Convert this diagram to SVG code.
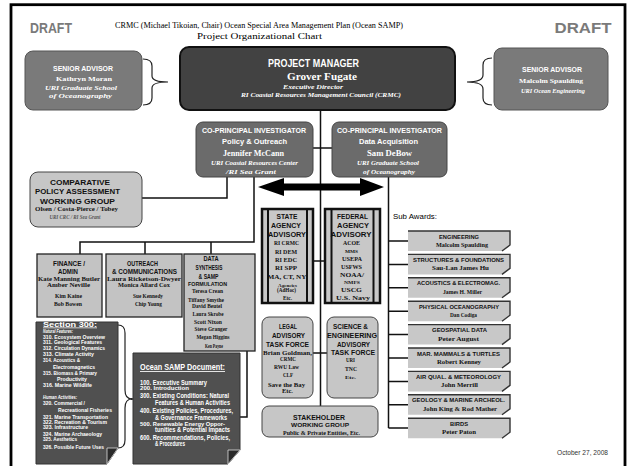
<svg xmlns="http://www.w3.org/2000/svg" width="630" height="466" viewBox="0 0 630 466">
<defs>
<style>
text{text-anchor:middle}
.s{font-family:"Liberation Sans",Arial,sans-serif}
.r{font-family:"Liberation Serif","Times New Roman",serif}
.b{font-weight:bold}
.i{font-style:italic}
.w{fill:#fff}
.k{fill:#111}
.l{text-anchor:start}
.ln{fill:none;stroke:#111;stroke-width:1.5}
.br{fill:none;stroke:#222;stroke-width:1.2}
.sa{fill:#7a7a7a;stroke:#555;stroke-width:1}
.cp{fill:#6b6b6b;stroke:#444;stroke-width:1}
.lg{fill:#c6c6c6;stroke:#444;stroke-width:1}
.sq{fill:#c3c3c3;stroke:#222;stroke-width:1.3}
.ag{fill:#c8c8c8;stroke:#111;stroke-width:2.5}
.dk{fill:#505050;stroke:#333;stroke-width:1}
.sub{fill:#c8c8c8}
.subedge{fill:none;stroke:#333;stroke-width:1.4}
</style>
</defs>
<rect x="0" y="0" width="630" height="466" fill="#fff"/>
<rect x="11" y="4.7" width="614" height="500" fill="none" stroke="#000" stroke-width="2.8"/>

<g id="header">
<text class="s b" x="51" y="33" font-size="15" fill="#7a7a7a" textLength="42" lengthAdjust="spacingAndGlyphs">DRAFT</text>
<text class="s b" x="583" y="33" font-size="15" fill="#7a7a7a" textLength="57" lengthAdjust="spacingAndGlyphs">DRAFT</text>
<text class="r" x="259" y="28" font-size="8.6" textLength="288" lengthAdjust="spacingAndGlyphs">CRMC (Michael Tikoian, Chair) Ocean Special Area Management Plan (Ocean SAMP)</text>
<text class="r" x="259.5" y="39" font-size="8.6" textLength="125" lengthAdjust="spacingAndGlyphs">Project Organizational Chart</text>
</g>

<g id="connectors">
<path class="br" d="M143,59 Q152,59 152,66 L152,76 Q152,82 168,82 Q152,82 152,88 L152,98 Q152,105 143,105"/>
<path class="br" d="M492,58 Q483,58 483,65 L483,75 Q483,82 467,82 Q483,82 483,89 L483,98 Q483,105 492,105"/>
<path class="ln" d="M320.5,110 V406"/>
<path class="ln" d="M313,148 H332"/>
<path class="ln" d="M227,177 V198 H142"/>
<path class="ln" d="M254,177 V242 H80 V254 M145,242 V254 M211,242 V254"/>
<path class="ln" d="M388.5,177 V428 M388.5,241 H408 M388.5,264.4 H408 M388.5,287.8 H408 M388.5,311.2 H408 M388.5,334.6 H408 M388.5,358 H408 M388.5,381.4 H408 M388.5,404.8 H408 M388.5,428 H408"/>
<path class="ln" d="M313,261 H325"/>
<path class="ln" d="M313,353 H327"/>
<path class="ln" d="M247,351 V417 H240"/>
<path class="br" d="M118,325 Q125,325 125,333 L125,390 Q125,399 132,399 Q125,399 125,408 L125,440 Q125,448 118,448"/>
<path class="ln" d="M131,399 H134"/>
<polygon points="258,187 284,178 284,183.5 360,183.5 360,178 384,187 360,196 360,190.5 284,190.5 284,196" fill="#000"/>
</g>

<g id="pm">
<rect x="180" y="47" width="275" height="63" rx="9" fill="#424242" stroke="#111" stroke-width="2"/>
<text class="s b w" x="313.5" y="67" font-size="10.5" textLength="91" lengthAdjust="spacingAndGlyphs">PROJECT MANAGER</text>
<text class="r b w" x="322" y="80" font-size="9.5" textLength="70" lengthAdjust="spacingAndGlyphs">Grover Fugate</text>
<text class="r b i w" x="313" y="88.5" font-size="7" textLength="60" lengthAdjust="spacingAndGlyphs">Executive Director</text>
<text class="r b i w" x="321" y="96.5" font-size="7" textLength="160" lengthAdjust="spacingAndGlyphs">RI Coastal Resources Management Council (CRMC)</text>
</g>

<g id="senior-left">
<rect class="sa" x="25" y="51" width="117" height="59" rx="8"/>
<text class="s b w" x="83" y="70.5" font-size="7.5" textLength="60" lengthAdjust="spacingAndGlyphs">SENIOR ADVISOR</text>
<text class="r b w" x="84" y="80.5" font-size="7" textLength="56" lengthAdjust="spacingAndGlyphs">Kathryn Moran</text>
<text class="r b i w" x="81" y="89.5" font-size="6.5" textLength="72" lengthAdjust="spacingAndGlyphs">URI Graduate School</text>
<text class="r b i w" x="80.5" y="97.5" font-size="6.5" textLength="63" lengthAdjust="spacingAndGlyphs">of Oceanography</text>
</g>

<g id="senior-right">
<rect class="sa" x="494" y="48" width="114" height="62" rx="8"/>
<text class="s b w" x="552" y="72" font-size="7.5" textLength="60" lengthAdjust="spacingAndGlyphs">SENIOR ADVISOR</text>
<text class="r b w" x="551" y="82.5" font-size="7" textLength="64" lengthAdjust="spacingAndGlyphs">Malcolm Spaulding</text>
<text class="r b i w" x="553" y="93" font-size="6.5" textLength="64" lengthAdjust="spacingAndGlyphs">URI Ocean Engineering</text>
</g>

<g id="copi-left">
<rect class="cp" x="196" y="122" width="117" height="55" rx="7"/>
<text class="s b w" x="254" y="133" font-size="7.2" textLength="104" lengthAdjust="spacingAndGlyphs">CO-PRINCIPAL INVESTIGATOR</text>
<text class="s b w" x="254.5" y="143.5" font-size="7.5" textLength="65" lengthAdjust="spacingAndGlyphs">Policy &amp; Outreach</text>
<text class="r b w" x="253.5" y="155.5" font-size="8" textLength="61" lengthAdjust="spacingAndGlyphs">Jennifer McCann</text>
<text class="r b i w" x="254.5" y="165" font-size="6.5" textLength="87" lengthAdjust="spacingAndGlyphs">URI Coastal Resources Center</text>
<text class="r b i w" x="251" y="173.5" font-size="6.5" textLength="50" lengthAdjust="spacingAndGlyphs">/RI Sea Grant</text>
</g>

<g id="copi-right">
<rect class="cp" x="332" y="122" width="115" height="55" rx="7"/>
<text class="s b w" x="389.5" y="133" font-size="7.2" textLength="105" lengthAdjust="spacingAndGlyphs">CO-PRINCIPAL INVESTIGATOR</text>
<text class="s b w" x="388.5" y="143.5" font-size="7.5" textLength="59" lengthAdjust="spacingAndGlyphs">Data Acquisition</text>
<text class="r b w" x="389.5" y="155.5" font-size="8" textLength="45" lengthAdjust="spacingAndGlyphs">Sam DeBow</text>
<text class="r b i w" x="388" y="165" font-size="6.5" textLength="62" lengthAdjust="spacingAndGlyphs">URI Graduate School</text>
<text class="r b i w" x="389" y="173.5" font-size="6.5" textLength="52" lengthAdjust="spacingAndGlyphs">of Oceanography</text>
</g>

<g id="comparative">
<rect class="lg" x="30" y="172" width="112" height="55" rx="8"/>
<text class="s b k" x="80" y="185" font-size="6.5" textLength="60" lengthAdjust="spacingAndGlyphs">COMPARATIVE</text>
<text class="s b k" x="77.5" y="194" font-size="6.5" textLength="85" lengthAdjust="spacingAndGlyphs">POLICY ASSESSMENT</text>
<text class="s b k" x="77.5" y="203.5" font-size="8" textLength="75" lengthAdjust="spacingAndGlyphs">WORKING GROUP</text>
<text class="r b k" x="76.5" y="210.5" font-size="6" textLength="83" lengthAdjust="spacingAndGlyphs">Olsen / Costa-Pierce / Tobey</text>
<text class="r b i" x="75" y="219" font-size="5.5" fill="#555" textLength="51" lengthAdjust="spacingAndGlyphs">URI CRC / RI Sea Grant</text>
</g>

<g id="finance">
<rect class="sq" x="37" y="254" width="65" height="63"/>
<text class="s b k" x="69" y="266" font-size="6.5" textLength="32" lengthAdjust="spacingAndGlyphs">FINANCE /</text>
<text class="s b k" x="68" y="274" font-size="6.5" textLength="20" lengthAdjust="spacingAndGlyphs">ADMIN</text>
<text class="r b k" x="69" y="281" font-size="6.3" textLength="62" lengthAdjust="spacingAndGlyphs">Kate Manning Butler</text>
<text class="r b k" x="68.5" y="287" font-size="6.3" textLength="43" lengthAdjust="spacingAndGlyphs">Amber Neville</text>
<text class="r b k" x="68.5" y="298" font-size="6.5" textLength="27" lengthAdjust="spacingAndGlyphs">Kim Kaine</text>
<text class="r b k" x="68" y="306" font-size="6.5" textLength="28" lengthAdjust="spacingAndGlyphs">Bob Bowen</text>
</g>

<g id="outreach">
<rect class="sq" x="106" y="254" width="76" height="63"/>
<text class="s b k" x="142.5" y="266" font-size="6.5" textLength="31" lengthAdjust="spacingAndGlyphs">OUTREACH</text>
<text class="s b k" x="144.5" y="274" font-size="6.5" textLength="65" lengthAdjust="spacingAndGlyphs">&amp; COMMUNICATIONS</text>
<text class="r b k" x="144" y="281" font-size="6.3" textLength="74" lengthAdjust="spacingAndGlyphs">Laura Ricketson-Dwyer</text>
<text class="r b k" x="144" y="287" font-size="6.3" textLength="52" lengthAdjust="spacingAndGlyphs">Monica Allard Cox</text>
<text class="r b k" x="148" y="298" font-size="6.5" textLength="30" lengthAdjust="spacingAndGlyphs">Sue Kennedy</text>
<text class="r b k" x="148.5" y="306" font-size="6.5" textLength="27" lengthAdjust="spacingAndGlyphs">Chip Young</text>
</g>

<g id="data-synthesis">
<rect class="sq" x="184" y="254" width="71" height="97"/>
<text class="s b k" x="211" y="261" font-size="6.5" textLength="15" lengthAdjust="spacingAndGlyphs">DATA</text>
<text class="s b k" x="209" y="270" font-size="6.5" textLength="27" lengthAdjust="spacingAndGlyphs">SYNTHESIS</text>
<text class="s b k" x="208.5" y="279" font-size="6.5" textLength="20" lengthAdjust="spacingAndGlyphs">&amp; SAMP</text>
<text class="s b k" x="207.5" y="286" font-size="5.5" textLength="39" lengthAdjust="spacingAndGlyphs">FORMULATION</text>
<text class="r b k" x="207.5" y="293" font-size="6.5" textLength="31" lengthAdjust="spacingAndGlyphs">Teresa Crean</text>
<text class="r b k" x="206" y="302" font-size="6.5" textLength="36" lengthAdjust="spacingAndGlyphs">Tiffany Smythe</text>
<text class="r b k" x="207" y="308" font-size="6.5" textLength="30" lengthAdjust="spacingAndGlyphs">David Beutel</text>
<text class="r b k" x="208" y="316" font-size="6.5" textLength="31" lengthAdjust="spacingAndGlyphs">Laura Skrobe</text>
<text class="r b k" x="208" y="323.5" font-size="6.5" textLength="28" lengthAdjust="spacingAndGlyphs">Scott Nixon</text>
<text class="r b k" x="211" y="331" font-size="6.5" textLength="33" lengthAdjust="spacingAndGlyphs">Steve Granger</text>
<text class="r b k" x="213" y="339" font-size="6.5" textLength="33" lengthAdjust="spacingAndGlyphs">Megan Higgins</text>
<text class="r b k" x="214" y="347.5" font-size="6.5" textLength="18" lengthAdjust="spacingAndGlyphs">Ken Payne</text>
</g>

<g id="section-300">
<polygon class="dk" points="36,322 118,322 118,448 107,464 36,464"/>
<polygon points="107,448 118,448 107,464" fill="#2a2a2a" stroke="#ddd" stroke-width="0.8"/>
<g class="s b w" font-size="6">
<text class="l" x="43" y="326.5" font-size="7.5" textLength="54" lengthAdjust="spacingAndGlyphs" text-decoration="underline">Section 300:</text>
<text class="l i" x="43" y="333" font-size="5" textLength="30" lengthAdjust="spacingAndGlyphs">Natural Features:</text>
<text class="l" x="43" y="338.5" textLength="62" lengthAdjust="spacingAndGlyphs">310. Ecosystem Overview</text>
<text class="l" x="43" y="344" textLength="59" lengthAdjust="spacingAndGlyphs">311. Geological Features</text>
<text class="l" x="43" y="350" textLength="62" lengthAdjust="spacingAndGlyphs">312. Circulation Dynamics</text>
<text class="l" x="43" y="355.5" font-size="4.8" textLength="51" lengthAdjust="spacingAndGlyphs">313. Climate Activity</text>
<text class="l" x="43" y="362" textLength="37" lengthAdjust="spacingAndGlyphs">314. Acoustics &amp;</text>
<text class="l" x="53" y="369" textLength="42" lengthAdjust="spacingAndGlyphs">Electromagnetics</text>
<text class="l" x="43" y="375" textLength="54" lengthAdjust="spacingAndGlyphs">315. Biomass &amp; Primary</text>
<text class="l" x="57" y="381" textLength="30" lengthAdjust="spacingAndGlyphs">Productivity</text>
<text class="l" x="43" y="387" textLength="49" lengthAdjust="spacingAndGlyphs">316. Marine Wildlife</text>
<text class="l i" x="43" y="399" font-size="5.5" textLength="34" lengthAdjust="spacingAndGlyphs">Human Activities:</text>
<text class="l" x="43" y="405" textLength="42" lengthAdjust="spacingAndGlyphs">320. Commercial /</text>
<text class="l" x="58" y="412" textLength="54" lengthAdjust="spacingAndGlyphs">Recreational Fisheries</text>
<text class="l" x="43" y="419" textLength="65" lengthAdjust="spacingAndGlyphs">321. Marine Transportation</text>
<text class="l" x="43" y="423.5" font-size="4.8" textLength="64" lengthAdjust="spacingAndGlyphs">322. Recreation &amp; Tourism</text>
<text class="l" x="43" y="429" textLength="45" lengthAdjust="spacingAndGlyphs">323. Infrastructure</text>
<text class="l" x="43" y="436" textLength="59" lengthAdjust="spacingAndGlyphs">324. Marine Archaeology</text>
<text class="l" x="43" y="441" textLength="34" lengthAdjust="spacingAndGlyphs">325. Aesthetics</text>
<text class="l" x="43" y="449" textLength="61" lengthAdjust="spacingAndGlyphs">326. Possible Future Uses</text>
</g>
</g>

<g id="ocean-samp-document">
<polygon class="dk" points="133,353 240,353 240,450 228,464 133,464" fill="#4a4a4a"/>
<polygon points="228,450 240,450 228,464" fill="#2a2a2a" stroke="#ddd" stroke-width="0.8"/>
<g class="s b w" font-size="6.3">
<text class="l" x="140" y="370" font-size="8.5" textLength="85" lengthAdjust="spacingAndGlyphs" text-decoration="underline">Ocean SAMP Document:</text>
<text class="l" x="140" y="385" textLength="67" lengthAdjust="spacingAndGlyphs">100. Executive Summary</text>
<text class="l" x="140" y="390" font-size="4.8" textLength="49" lengthAdjust="spacingAndGlyphs">200. Introduction</text>
<text class="l" x="140" y="398" textLength="89" lengthAdjust="spacingAndGlyphs">300. Existing Conditions: Natural</text>
<text class="l" x="155" y="405" textLength="75" lengthAdjust="spacingAndGlyphs">Features &amp; Human Activities</text>
<text class="l" x="140" y="413" textLength="93" lengthAdjust="spacingAndGlyphs">400. Existing Policies, Procedures,</text>
<text class="l" x="155" y="419.5" textLength="72" lengthAdjust="spacingAndGlyphs">&amp; Governance Frameworks</text>
<text class="l" x="140" y="426" font-size="4.8" textLength="85" lengthAdjust="spacingAndGlyphs">500. Renewable Energy Oppor-</text>
<text class="l" x="155" y="432" textLength="75" lengthAdjust="spacingAndGlyphs">tunities &amp; Potential Impacts</text>
<text class="l" x="140" y="440" textLength="90" lengthAdjust="spacingAndGlyphs">600. Recommendations, Policies,</text>
<text class="l" x="155" y="446" textLength="30" lengthAdjust="spacingAndGlyphs">&amp; Procedures</text>
</g>
</g>

<g id="state-agency">
<rect class="ag" x="262" y="209" width="51" height="94"/>
<path d="M268,209 V303 M307,209 V303" stroke="#111" stroke-width="2"/>
<g class="k">
<text class="s b" x="287" y="219" font-size="6.5" textLength="21" lengthAdjust="spacingAndGlyphs">STATE</text>
<text class="s b" x="286" y="228" font-size="7.5" textLength="30" lengthAdjust="spacingAndGlyphs">AGENCY</text>
<text class="s b" x="287" y="237" font-size="7.5" textLength="38" lengthAdjust="spacingAndGlyphs">ADVISORY</text>
<text class="r b" x="286.5" y="245" font-size="6.5" textLength="25" lengthAdjust="spacingAndGlyphs">RI CRMC</text>
<text class="r b" x="286" y="254" font-size="6.5" textLength="22" lengthAdjust="spacingAndGlyphs">RI DEM</text>
<text class="r b" x="286" y="262" font-size="6.5" textLength="22" lengthAdjust="spacingAndGlyphs">RI EDC</text>
<text class="r b" x="286" y="270" font-size="6.5" textLength="22" lengthAdjust="spacingAndGlyphs">RI SPP</text>
<text class="r b" x="287" y="279" font-size="6.5" textLength="39" lengthAdjust="spacingAndGlyphs">MA, CT, NY</text>
<text class="r b" x="287.5" y="286.5" font-size="4.8" textLength="19" lengthAdjust="spacingAndGlyphs">Agencies</text>
<text class="r b" x="286.5" y="292" font-size="6" textLength="19" lengthAdjust="spacingAndGlyphs">(AdHoc)</text>
<text class="r b" x="287.5" y="300" font-size="5.5" textLength="9" lengthAdjust="spacingAndGlyphs">Etc.</text>
</g>
</g>

<g id="federal-agency">
<rect class="ag" x="325" y="209" width="55" height="94"/>
<path d="M331.5,209 V303 M373.5,209 V303" stroke="#111" stroke-width="2"/>
<g class="k">
<text class="s b" x="352.5" y="219" font-size="6.5" textLength="31" lengthAdjust="spacingAndGlyphs">FEDERAL</text>
<text class="s b" x="353" y="228" font-size="7.5" textLength="32" lengthAdjust="spacingAndGlyphs">AGENCY</text>
<text class="s b" x="351" y="237" font-size="7.5" textLength="41" lengthAdjust="spacingAndGlyphs">ADVISORY</text>
<text class="r b" x="351.5" y="245" font-size="6.5" textLength="17" lengthAdjust="spacingAndGlyphs">ACOE</text>
<text class="r b" x="351.5" y="253" font-size="5" textLength="13" lengthAdjust="spacingAndGlyphs">MMS</text>
<text class="r b" x="352" y="261" font-size="6.5" textLength="20" lengthAdjust="spacingAndGlyphs">USEPA</text>
<text class="r b" x="351.5" y="269" font-size="6.5" textLength="21" lengthAdjust="spacingAndGlyphs">USFWS</text>
<text class="r b" x="352" y="277" font-size="6.5" textLength="24" lengthAdjust="spacingAndGlyphs">NOAA/</text>
<text class="r b" x="352" y="283.5" font-size="4.5" textLength="16" lengthAdjust="spacingAndGlyphs">NMFS</text>
<text class="r b" x="351.5" y="292" font-size="6.5" textLength="21" lengthAdjust="spacingAndGlyphs">USCG</text>
<text class="r b" x="353" y="300" font-size="6" textLength="34" lengthAdjust="spacingAndGlyphs">U.S. Navy</text>
</g>
</g>

<g id="legal">
<rect class="lg" x="262" y="317" width="51" height="81" rx="7"/>
<g class="k">
<text class="s b" x="288" y="329" font-size="7" textLength="18" lengthAdjust="spacingAndGlyphs">LEGAL</text>
<text class="s b" x="288.5" y="338" font-size="7" textLength="33" lengthAdjust="spacingAndGlyphs">ADVISORY</text>
<text class="s b" x="287.5" y="347" font-size="7" textLength="43" lengthAdjust="spacingAndGlyphs">TASK FORCE</text>
<text class="r b" x="287.5" y="354.5" font-size="5.2" textLength="49" lengthAdjust="spacingAndGlyphs">Brian Goldman,</text>
<text class="r b" x="288" y="361" font-size="6.3" textLength="16" lengthAdjust="spacingAndGlyphs">CRMC</text>
<text class="r b" x="286.5" y="369" font-size="6.3" textLength="25" lengthAdjust="spacingAndGlyphs">RWU Law</text>
<text class="r b" x="288" y="377" font-size="5.5" textLength="10" lengthAdjust="spacingAndGlyphs">CLF</text>
<text class="r b" x="286.5" y="387" font-size="6.3" textLength="37" lengthAdjust="spacingAndGlyphs">Save the Bay</text>
<text class="r b" x="287.5" y="393" font-size="5.8" textLength="11" lengthAdjust="spacingAndGlyphs">Etc.</text>
</g>
</g>

<g id="science">
<rect class="lg" x="327" y="317" width="51" height="81" rx="7"/>
<g class="k">
<text class="s b" x="350.5" y="329" font-size="7" textLength="35" lengthAdjust="spacingAndGlyphs">SCIENCE &amp;</text>
<text class="s b" x="352" y="338" font-size="7" textLength="50" lengthAdjust="spacingAndGlyphs">ENGINEERING</text>
<text class="s b" x="353.5" y="347" font-size="7" textLength="33" lengthAdjust="spacingAndGlyphs">ADVISORY</text>
<text class="s b" x="353" y="355" font-size="6.3" textLength="44" lengthAdjust="spacingAndGlyphs">TASK FORCE</text>
<text class="r b" x="350.5" y="362" font-size="6.3" textLength="9" lengthAdjust="spacingAndGlyphs">URI</text>
<text class="r b" x="351" y="371" font-size="6.3" textLength="12" lengthAdjust="spacingAndGlyphs">TNC</text>
<text class="r b" x="350.5" y="379" font-size="4.8" textLength="11" lengthAdjust="spacingAndGlyphs">Etc.</text>
</g>
</g>

<g id="stakeholder">
<rect class="lg" x="262" y="406" width="116" height="31" rx="7"/>
<text class="s b k" x="319" y="420" font-size="7.5" textLength="52" lengthAdjust="spacingAndGlyphs">STAKEHOLDER</text>
<text class="s b k" x="320" y="427" font-size="5.5" textLength="58" lengthAdjust="spacingAndGlyphs">WORKING GROUP</text>
<text class="r b k" x="321.5" y="435" font-size="6.5" textLength="77" lengthAdjust="spacingAndGlyphs">Public &amp; Private Entities, Etc.</text>
</g>

<text class="s l" x="393" y="219" font-size="6.5" textLength="44" lengthAdjust="spacingAndGlyphs">Sub Awards:</text>

<g id="sub-engineering">
<polygon class="sub" points="408,231 510,231 510,245 502,251 408,251"/>
<polyline class="subedge" points="408,231 510,231 510,245 502,251"/>
<text class="s b k" x="459" y="238.5" font-size="6" textLength="40" lengthAdjust="spacingAndGlyphs">ENGINEERING</text>
<text class="r b k" x="462" y="247" font-size="6.5" textLength="52" lengthAdjust="spacingAndGlyphs">Malcolm Spaulding</text>
</g>
<g id="sub-structures">
<polygon class="sub" points="408,254.4 510,254.4 510,268.4 502,274.4 408,274.4"/>
<polyline class="subedge" points="408,254.4 510,254.4 510,268.4 502,274.4"/>
<text class="s b k" x="458.5" y="261.9" font-size="6" textLength="91" lengthAdjust="spacingAndGlyphs">STRUCTURES &amp; FOUNDATIONS</text>
<text class="r b k" x="460.5" y="270.4" font-size="6.5" textLength="57" lengthAdjust="spacingAndGlyphs">Sau-Lan James Hu</text>
</g>
<g id="sub-acoustics">
<polygon class="sub" points="408,277.8 510,277.8 510,291.8 502,297.8 408,297.8"/>
<polyline class="subedge" points="408,277.8 510,277.8 510,291.8 502,297.8"/>
<text class="s b k" x="458.5" y="285.3" font-size="6" textLength="83" lengthAdjust="spacingAndGlyphs">ACOUSTICS &amp; ELECTROMAG.</text>
<text class="r b k" x="462.5" y="293.8" font-size="6.5" textLength="39" lengthAdjust="spacingAndGlyphs">James H. Miller</text>
</g>
<g id="sub-physical">
<polygon class="sub" points="408,301.2 510,301.2 510,315.2 502,321.2 408,321.2"/>
<polyline class="subedge" points="408,301.2 510,301.2 510,315.2 502,321.2"/>
<text class="s b k" x="459" y="308.7" font-size="6" textLength="80" lengthAdjust="spacingAndGlyphs">PHYSICAL OCEANOGRAPHY</text>
<text class="r b k" x="463.5" y="317.2" font-size="6.5" textLength="27" lengthAdjust="spacingAndGlyphs">Dan Codiga</text>
</g>
<g id="sub-geospatial">
<polygon class="sub" points="408,324.6 510,324.6 510,338.6 502,344.6 408,344.6"/>
<polyline class="subedge" points="408,324.6 510,324.6 510,338.6 502,344.6"/>
<text class="s b k" x="459.5" y="332.1" font-size="6" textLength="55" lengthAdjust="spacingAndGlyphs">GEOSPATIAL DATA</text>
<text class="r b k" x="458.5" y="340.6" font-size="6.5" textLength="41" lengthAdjust="spacingAndGlyphs">Peter August</text>
</g>
<g id="sub-mammals">
<polygon class="sub" points="408,348 510,348 510,362 502,368 408,368"/>
<polyline class="subedge" points="408,348 510,348 510,362 502,368"/>
<text class="s b k" x="458.5" y="355.5" font-size="6" textLength="83" lengthAdjust="spacingAndGlyphs">MAR. MAMMALS &amp; TURTLES</text>
<text class="r b k" x="459" y="364" font-size="6.5" textLength="44" lengthAdjust="spacingAndGlyphs">Robert Kenney</text>
</g>
<g id="sub-air">
<polygon class="sub" points="408,371.4 510,371.4 510,385.4 502,391.4 408,391.4"/>
<polyline class="subedge" points="408,371.4 510,371.4 510,385.4 502,391.4"/>
<text class="s b k" x="458.5" y="378.9" font-size="6" textLength="85" lengthAdjust="spacingAndGlyphs">AIR QUAL. &amp; METEOROLOGY</text>
<text class="r b k" x="459.5" y="387.4" font-size="6.5" textLength="37" lengthAdjust="spacingAndGlyphs">John Merrill</text>
</g>
<g id="sub-geology">
<polygon class="sub" points="408,394.8 510,394.8 510,408.8 502,414.8 408,414.8"/>
<polyline class="subedge" points="408,394.8 510,394.8 510,408.8 502,414.8"/>
<text class="s b k" x="458.5" y="402.3" font-size="6" textLength="93" lengthAdjust="spacingAndGlyphs">GEOLOGY &amp; MARINE ARCHEOL.</text>
<text class="r b k" x="460" y="410.8" font-size="6.5" textLength="74" lengthAdjust="spacingAndGlyphs">John King &amp; Rod Mather</text>
</g>
<g id="sub-birds">
<polygon class="sub" points="408,418.2 510,418.2 510,432.2 502,438.2 408,438.2"/>
<polyline class="subedge" points="408,418.2 510,418.2 510,432.2 502,438.2"/>
<text class="s b k" x="459" y="425.7" font-size="6" textLength="18" lengthAdjust="spacingAndGlyphs">BIRDS</text>
<text class="r b k" x="459" y="434.2" font-size="6.5" textLength="34" lengthAdjust="spacingAndGlyphs">Peter Paton</text>
</g>

<text class="s" x="582.5" y="455" font-size="6.3" fill="#333" textLength="51" lengthAdjust="spacingAndGlyphs">October 27, 2008</text>
</svg>
